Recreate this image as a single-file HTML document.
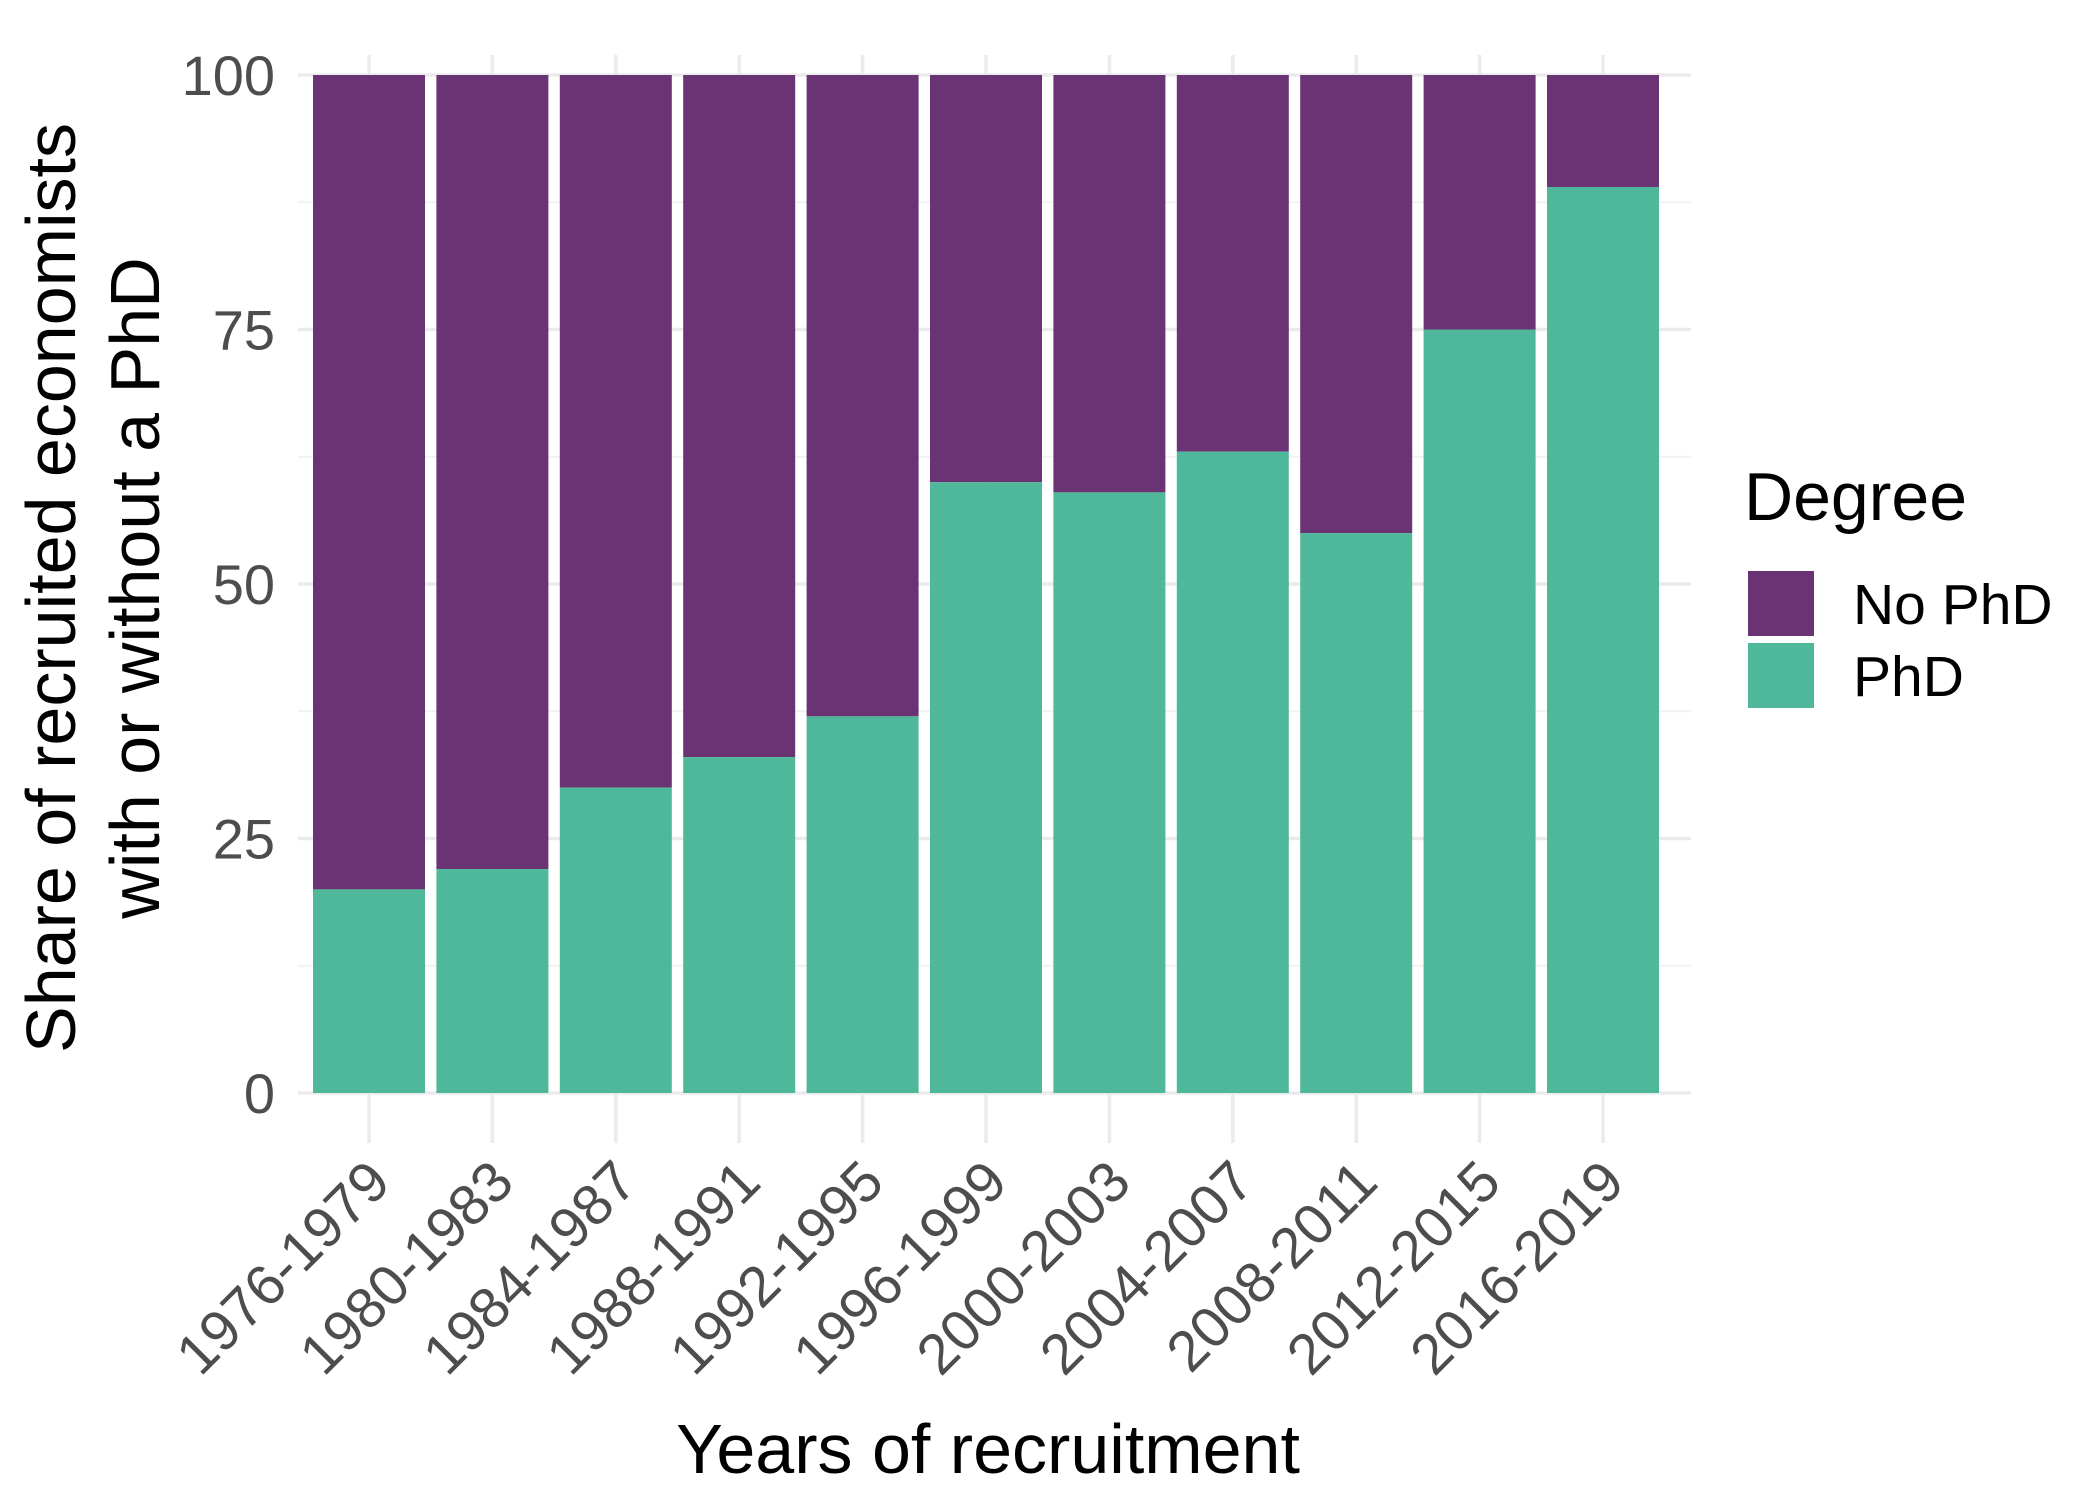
<!DOCTYPE html>
<html><head><meta charset="utf-8"><style>body{margin:0;background:#fff}svg{display:block;font-family:"Liberation Sans",Arial,sans-serif}</style></head>
<body>
<svg id="chart" width="2100" height="1499" viewBox="0 0 2100 1499" xmlns="http://www.w3.org/2000/svg">
<g id="grid"></g>
<g id="bars"></g>
<g id="yticks"></g>
<g id="xticks"></g>
<text transform="translate(93,588) rotate(-90)" text-anchor="middle" font-size="70" fill="#000"><tspan x="0" dy="-18">Share of recruited economists</tspan><tspan x="0" dy="84">with or without a PhD</tspan></text>
<text x="988" y="1473" text-anchor="middle" font-size="70" fill="#000">Years of recruitment</text>
<g>
<text x="1744" y="520" font-size="68" fill="#000">Degree</text>
<rect x="1766" y="571" width="66" height="65" fill="#6a3374" transform="translate(-18,0)"/>
<rect x="1766" y="643" width="66" height="65" fill="#4fb89a" transform="translate(-18,0)"/>
<text x="1853" y="624" font-size="57" fill="#000">No PhD</text>
<text x="1853" y="696" font-size="57" fill="#000">PhD</text>
</g>
</svg>
<script>
const categories = ["1976-1979","1980-1983","1984-1987","1988-1991","1992-1995","1996-1999","2000-2003","2004-2007","2008-2011","2012-2015","2016-2019"];
const phdValues = [20,22,30,33,37,60,59,63,55,75,89];
const noPhdValues = [80,78,70,67,63,40,41,37,45,25,11];
const yTicks = [0,25,50,75,100];
const yMinor = [12.5,37.5,62.5,87.5];

const NS = "http://www.w3.org/2000/svg";
const y0 = 1093, y100 = 75, left = 298, right = 1691, x0 = 369, step = 123.4, bw = 112;
const yScale = v => y0 - (v / 100) * (y0 - y100);
const xScale = i => x0 + i * step;
function mk(tag, attrs, parent){const e=document.createElementNS(NS,tag);for(const k in attrs)e.setAttribute(k,attrs[k]);parent.appendChild(e);return e;}
const grid = document.getElementById('grid'), bars = document.getElementById('bars');
const yt = document.getElementById('yticks'), xt = document.getElementById('xticks');
yMinor.forEach(v=>{
  const l = mk('line',{x1:left,x2:right,y1:yScale(v),y2:yScale(v),stroke:'#f2f2f2','stroke-width':2},grid);
  
  
});
yTicks.forEach(v=>{
  const l = mk('line',{x1:left,x2:right,y1:yScale(v),y2:yScale(v),stroke:'#ebebeb','stroke-width':3.5},grid);
  
  
  const t = mk('text',{x:275,y:yScale(v)+20,'text-anchor':'end','font-size':56,fill:'#4d4d4d'},yt);
  t.textContent = v;
  
  
});
categories.forEach((c,i)=>{
  const cx = xScale(i);
  const g = mk('line',{x1:cx,x2:cx,y1:y100-20,y2:y0+50,stroke:'#ebebeb','stroke-width':3.5},grid);
  
  
  const top = mk('rect',{x:cx-bw/2,y:yScale(100),width:bw,height:yScale(phdValues[i])-yScale(100),fill:'#6a3374'},bars);
  
  
  const bot = mk('rect',{x:cx-bw/2,y:yScale(phdValues[i]),width:bw,height:y0-yScale(phdValues[i]),fill:'#4fb89a'},bars);
  
  
  const t = mk('text',{transform:`translate(${cx+24},${y0+92}) rotate(-45)`,'text-anchor':'end','font-size':57,fill:'#4d4d4d'},xt);
  t.textContent = c;
  
  
});
</script>
</body></html>
